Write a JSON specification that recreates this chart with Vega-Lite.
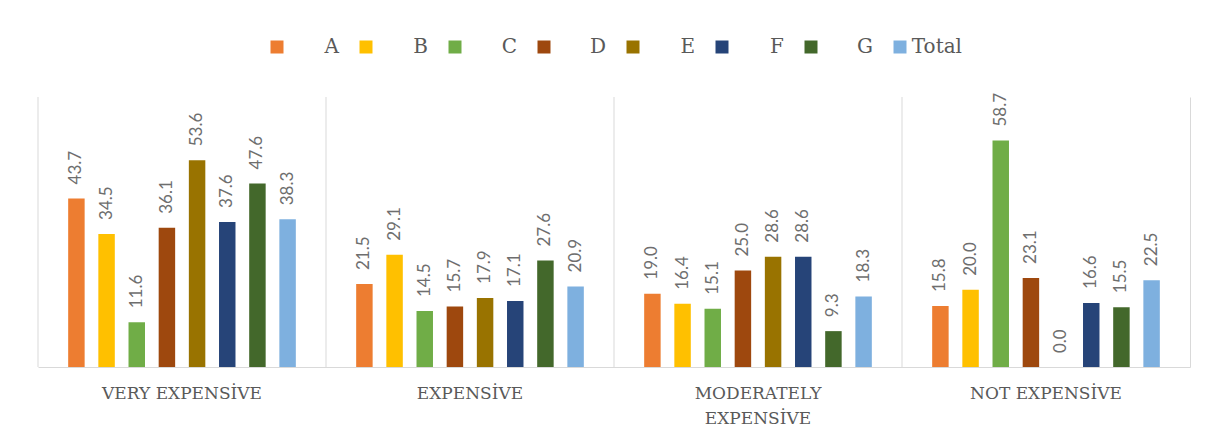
{
  "$schema": "https://vega.github.io/schema/vega-lite/v6.json",
  "width": 1152,
  "height": 270,
  "autosize": {"type": "none"},
  "padding": {"left": 38, "top": 97, "right": 15, "bottom": 79},
  "background": "white",
  "datasets": {
    "cats": [
      {"category": "VERY EXPENSİVE"},
      {"category": "EXPENSİVE"},
      {"category": "MODERATELY EXPENSİVE"},
      {"category": "NOT EXPENSİVE"}
    ],
    "vals": [
      {"category": "VERY EXPENSİVE", "group": "A", "value": 43.7},
      {"category": "VERY EXPENSİVE", "group": "B", "value": 34.5},
      {"category": "VERY EXPENSİVE", "group": "C", "value": 11.6},
      {"category": "VERY EXPENSİVE", "group": "D", "value": 36.1},
      {"category": "VERY EXPENSİVE", "group": "E", "value": 53.6},
      {"category": "VERY EXPENSİVE", "group": "F", "value": 37.6},
      {"category": "VERY EXPENSİVE", "group": "G", "value": 47.6},
      {"category": "VERY EXPENSİVE", "group": "Total", "value": 38.3},
      {"category": "EXPENSİVE", "group": "A", "value": 21.5},
      {"category": "EXPENSİVE", "group": "B", "value": 29.1},
      {"category": "EXPENSİVE", "group": "C", "value": 14.5},
      {"category": "EXPENSİVE", "group": "D", "value": 15.7},
      {"category": "EXPENSİVE", "group": "E", "value": 17.9},
      {"category": "EXPENSİVE", "group": "F", "value": 17.1},
      {"category": "EXPENSİVE", "group": "G", "value": 27.6},
      {"category": "EXPENSİVE", "group": "Total", "value": 20.9},
      {"category": "MODERATELY EXPENSİVE", "group": "A", "value": 19.0},
      {"category": "MODERATELY EXPENSİVE", "group": "B", "value": 16.4},
      {"category": "MODERATELY EXPENSİVE", "group": "C", "value": 15.1},
      {"category": "MODERATELY EXPENSİVE", "group": "D", "value": 25.0},
      {"category": "MODERATELY EXPENSİVE", "group": "E", "value": 28.6},
      {"category": "MODERATELY EXPENSİVE", "group": "F", "value": 28.6},
      {"category": "MODERATELY EXPENSİVE", "group": "G", "value": 9.3},
      {"category": "MODERATELY EXPENSİVE", "group": "Total", "value": 18.3},
      {"category": "NOT EXPENSİVE", "group": "A", "value": 15.8},
      {"category": "NOT EXPENSİVE", "group": "B", "value": 20.0},
      {"category": "NOT EXPENSİVE", "group": "C", "value": 58.7},
      {"category": "NOT EXPENSİVE", "group": "D", "value": 23.1},
      {"category": "NOT EXPENSİVE", "group": "E", "value": 0.0},
      {"category": "NOT EXPENSİVE", "group": "F", "value": 16.6},
      {"category": "NOT EXPENSİVE", "group": "G", "value": 15.5},
      {"category": "NOT EXPENSİVE", "group": "Total", "value": 22.5}
    ]
  },
  "layer": [
    {
      "data": {"name": "cats"},
      "mark": {"type": "rule", "color": "#D9D9D9", "strokeWidth": 1},
      "encoding": {
        "x": {
          "field": "category",
          "type": "nominal",
          "bandPosition": 0,
          "sort": ["VERY EXPENSİVE", "EXPENSİVE", "MODERATELY EXPENSİVE", "NOT EXPENSİVE"]
        }
      }
    },
    {
      "data": {"name": "vals"},
      "encoding": {
        "x": {
          "field": "category",
          "type": "nominal",
          "sort": ["VERY EXPENSİVE", "EXPENSİVE", "MODERATELY EXPENSİVE", "NOT EXPENSİVE"],
          "scale": {"paddingInner": 0, "paddingOuter": 0},
          "axis": {
            "title": null,
            "grid": false,
            "ticks": false,
            "domainColor": "#D9D9D9",
            "labelAngle": 0,
            "labelAlign": "center",
            "labelFont": "DejaVu Serif",
            "labelFontSize": 17,
            "labelColor": "#595959",
            "labelPadding": 18,
            "labelLimit": 400,
            "labelLineHeight": 25,
            "labelBaseline": "top",
            "labelExpr": "datum.value == 'MODERATELY EXPENSİVE' ? ['MODERATELY', 'EXPENSİVE'] : datum.label"
          }
        },
        "xOffset": {
          "field": "group",
          "type": "nominal",
          "sort": ["A", "B", "C", "D", "E", "F", "G", "Total"],
          "scale": {"paddingInner": 0.454, "paddingOuter": 1.14}
        },
        "y": {
          "field": "value",
          "type": "quantitative",
          "scale": {"domain": [0, 70], "nice": false},
          "axis": {
            "orient": "right",
            "title": null,
            "labels": false,
            "ticks": false,
            "grid": false,
            "domain": true,
            "domainColor": "#D9D9D9"
          }
        }
      },
      "layer": [
        {
          "mark": {"type": "bar"},
          "encoding": {
            "color": {
              "field": "group",
              "type": "nominal",
              "sort": ["A", "B", "C", "D", "E", "F", "G", "Total"],
              "scale": {
                "domain": ["A", "B", "C", "D", "E", "F", "G", "Total"],
                "range": ["#ED7D31", "#FFC000", "#70AD47", "#9E480E", "#997300", "#264478", "#43682B", "#7EB0DF"]
              },
              "legend": {
                "title": null,
                "orient": "top",
                "direction": "horizontal",
                "offset": 40,
                "symbolType": "square",
                "symbolSize": 169,
                "symbolStrokeWidth": 0,
                "labelFont": "DejaVu Serif",
                "labelFontSize": 20,
                "labelColor": "#595959",
                "labelAlign": "right",
                "labelOffset": 52,
                "columnPadding": 17
              }
            }
          }
        },
        {
          "mark": {
            "type": "text",
            "angle": -90,
            "align": "left",
            "baseline": "middle",
            "dx": 14,
            "font": "Lato",
            "fontSize": 17,
            "color": "#6E6E6E"
          },
          "encoding": {
            "text": {"field": "value", "type": "quantitative", "format": ".1f"}
          }
        }
      ]
    }
  ],
  "config": {
    "view": {"stroke": null},
    "legend": {"layout": {"top": {"anchor": "middle"}}}
  }
}
